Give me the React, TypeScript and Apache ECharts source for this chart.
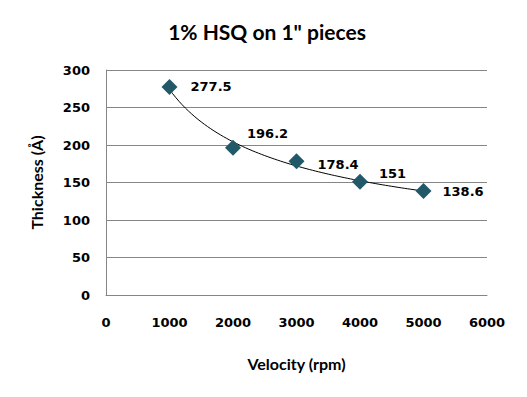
import React, { useEffect, useRef } from "react";
import * as echarts from "echarts";

const velocity = [1000, 2000, 3000, 4000, 5000];
const thickness = [277.5, 196.2, 178.4, 151, 138.6];
const labelOffsets = [[6, 0], [-1, -14], [6, 3], [4, -8], [4, 0]];

function powerFit(xs: number[], ys: number[]) {
  const lx = xs.map(Math.log);
  const ly = ys.map(Math.log);
  const n = xs.length;
  const mx = lx.reduce((a, b) => a + b, 0) / n;
  const my = ly.reduce((a, b) => a + b, 0) / n;
  let sxy = 0, sxx = 0;
  for (let i = 0; i < n; i++) {
    sxy += (lx[i] - mx) * (ly[i] - my);
    sxx += (lx[i] - mx) * (lx[i] - mx);
  }
  const b = sxy / sxx;
  const a = Math.exp(my - b * mx);
  return (x: number) => a * Math.pow(x, b);
}

export default function App() {
  const ref = useRef<HTMLDivElement>(null);
  useEffect(() => {
    if (!ref.current) return;
    const chart = echarts.init(ref.current, undefined, { renderer: "svg" });
    const f = powerFit(velocity, thickness);
    const x0 = velocity[0];
    const x1 = velocity[velocity.length - 1];
    const trend: number[][] = [];
    for (let i = 0; i <= 80; i++) {
      const x = x0 + ((x1 - x0) * i) / 80;
      trend.push([x, f(x)]);
    }
    const tickFont = { fontFamily: "DejaVu Sans", fontWeight: "bold" as const, fontSize: 13, color: "#000" };
    chart.setOption({
      animation: false,
      backgroundColor: "#fff",
      title: {
        text: '1% HSQ on 1" pieces',
        left: 262,
        textAlign: "center",
        top: 16,
        textStyle: { fontFamily: "Lato", fontWeight: "bold", fontSize: 21, color: "#000" },
      },
      grid: { left: 106, right: 40, top: 70, bottom: 102, containLabel: false },
      xAxis: {
        type: "value",
        min: 0,
        max: 6000,
        interval: 1000,
        name: "Velocity (rpm)",
        nameLocation: "middle",
        nameGap: 60,
        nameTextStyle: { fontFamily: "Lato", fontWeight: "bold", fontSize: 16, color: "#000" },
        axisLine: { show: true, lineStyle: { color: "#868686" } },
        axisTick: { show: false },
        splitLine: { show: false },
        axisLabel: { ...tickFont, margin: 21, formatter: (v: number) => String(v) },
      },
      yAxis: {
        type: "value",
        min: 0,
        max: 300,
        interval: 50,
        name: "Thickness (Å)",
        nameLocation: "middle",
        nameGap: 62,
        nameTextStyle: { fontFamily: "Lato", fontWeight: "bold", fontSize: 16, color: "#000" },
        axisLine: { show: true, lineStyle: { color: "#868686" } },
        axisTick: { show: false },
        splitLine: { show: true, lineStyle: { color: "#868686", width: 1 } },
        axisLabel: { ...tickFont, margin: 16 },
      },
      series: [
        {
          type: "line",
          data: trend,
          showSymbol: false,
          symbol: "none",
          lineStyle: { color: "#000", width: 1 },
          z: 2,
          silent: true,
        },
        {
          type: "scatter",
          data: velocity.map((v, i) => ({
            value: [v, thickness[i]],
            label: { offset: labelOffsets[i] },
          })),
          symbol: "diamond",
          symbolSize: 16,
          itemStyle: { color: "#215968", opacity: 1 },
          z: 3,
          label: {
            show: true,
            position: "right",
            distance: 7,
            formatter: (p: any) => String(p.value[1]),
            fontFamily: "DejaVu Sans",
            fontWeight: "bold",
            fontSize: 13,
            color: "#000",
          },
        },
      ],
    });
    return () => chart.dispose();
  }, []);
  return (
    <div
      ref={ref}
      style={{ position: "absolute", left: 0, top: 0, width: 527, height: 397 }}
    />
  );
}
